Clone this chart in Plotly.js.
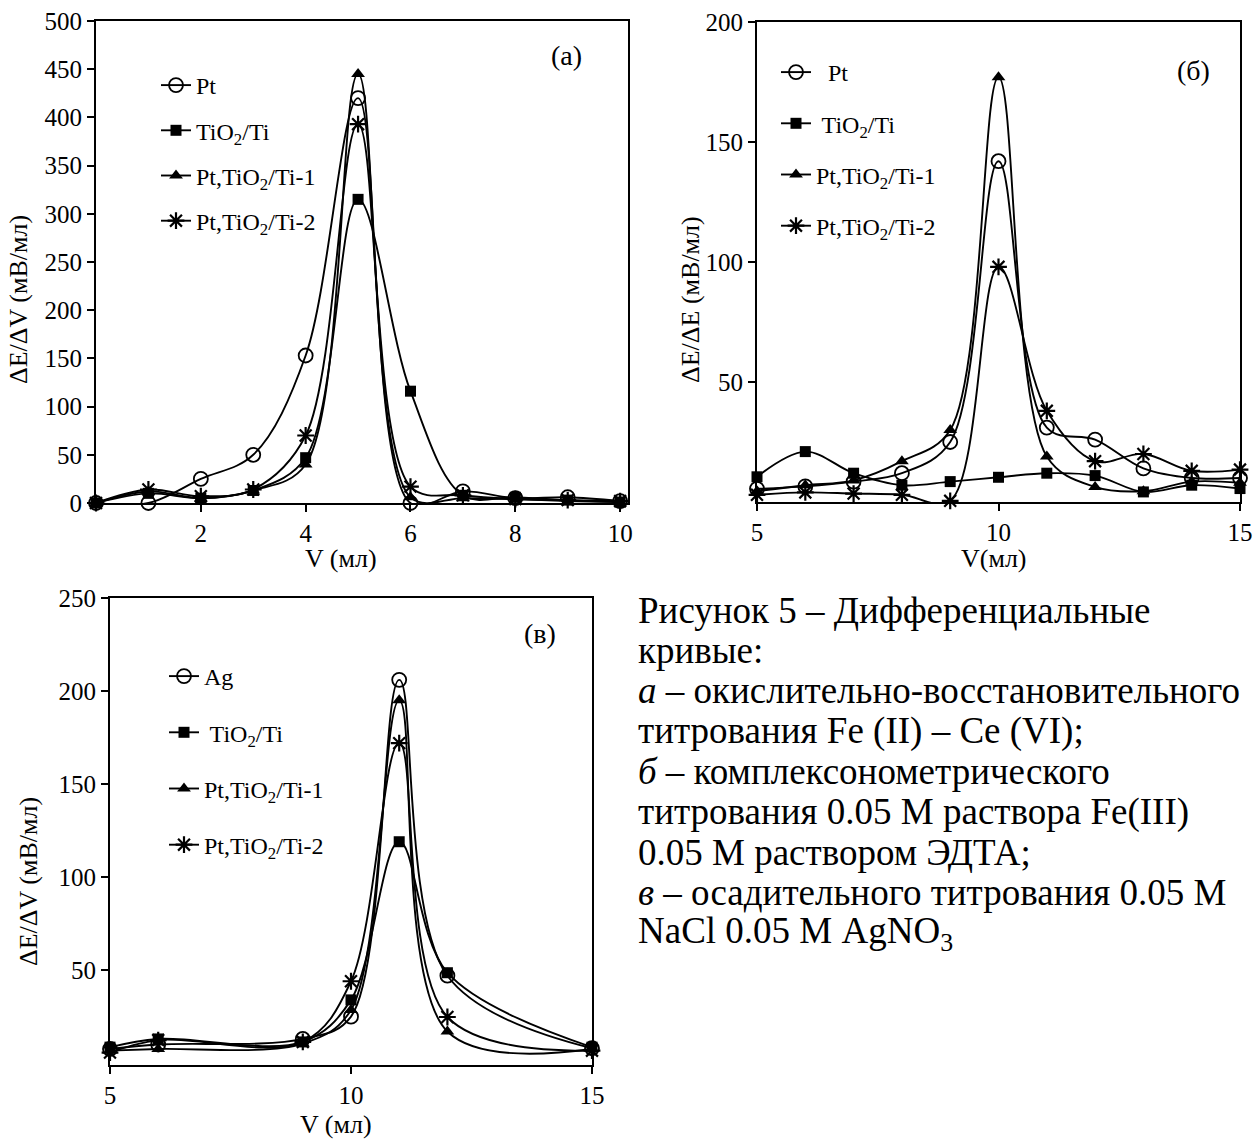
<!DOCTYPE html>
<html>
<head>
<meta charset="utf-8">
<script src="https://cdn.plot.ly/plotly-3.0.1.min.js"></script>
<style>
html,body{margin:0;padding:0;background:#fff;}
#chart{width:1258px;height:1142px;}
</style>
</head>
<body>
<div id="chart"></div>
<script>
// ---------- data ----------
// panel (a): redox titration Fe(II) - Ce
const xA = [0, 1, 2, 3, 4, 5, 6, 7, 8, 9, 10];
const aPt    = [0, 0, 25, 50, 153, 420, 0, 12, 5, 6, 2];
const aTiO2  = [0, 10, 5, 13, 47, 315, 116, 8, 6, 3, 1];
const aPt1   = [0, 12, 5, 13, 40, 445, 6, 5, 4, 2, 1];
const aPt2   = [0, 14, 7, 14, 70, 393, 17, 8, 4, 3, 2];

// panel (б): complexometric titration
const xB = [5, 6, 7, 8, 9, 10, 11, 12, 13, 14, 15];
const bPt    = [5.5, 6.5, 8.5, 12, 25, 142, 31, 26, 14, 10, 10];
const bTiO2  = [10.5, 21, 12, 7, 8.5, 10.3, 12, 11, 4.2, 7, 5.6];
const bPt1   = [4.5, 7, 9, 17, 30, 177, 19, 6.3, 4.5, 8.5, 8];
const bPt2   = [3, 4, 3.5, 3, 0.5, 98, 38, 17, 20, 13, 13.5];

// panel (в): precipitation titration
const xC = [5, 6, 9, 10, 11, 12, 15];
const cAg    = [7.6, 10, 13, 25, 206, 47, 8];
const cTiO2  = [8.6, 13, 11.4, 34, 119, 48.6, 8.6];
const cPt1   = [6.7, 7.6, 10.5, 28.6, 195, 17, 7.6];
const cPt2   = [5.7, 12.4, 11.4, 44, 172, 24.8, 6.7];

const namesA = ['Pt', 'TiO<sub>2</sub>/Ti', 'Pt,TiO<sub>2</sub>/Ti-1', 'Pt,TiO<sub>2</sub>/Ti-2'];
const namesB = ['  Pt', ' TiO<sub>2</sub>/Ti', 'Pt,TiO<sub>2</sub>/Ti-1', 'Pt,TiO<sub>2</sub>/Ti-2'];
const namesC = ['Ag', ' TiO<sub>2</sub>/Ti', 'Pt,TiO<sub>2</sub>/Ti-1', 'Pt,TiO<sub>2</sub>/Ti-2'];

const xTitles = ['V (мл)', 'V(мл)', 'V (мл)'];
const yTitles = ['ΔE/ΔV (мВ/мл)', 'ΔE/ΔE (мВ/мл)', 'ΔE/ΔV (мВ/мл)'];
const panelLabels = ['(a)', '(б)', '(в)'];

const captionLines = [
  'Рисунок 5 – Дифференциальные',
  'кривые:',
  '<i>а</i> – окислительно-восстановительного',
  'титрования Fe (II) – Ce (VI);',
  '<i>б</i> – комплексонометрического',
  'титрования 0.05 М раствора Fe(III)',
  '0.05 М раствором ЭДТА;',
  '<i>в</i> – осадительного титрования 0.05 М',
  'NaCl 0.05 М AgNO<sub>3</sub>'
];

// ---------- styles ----------
const FONT = 'Liberation Serif, Times New Roman, serif';
const W = 1258, H = 1142;
const px = v => v / W;
const py = v => 1 - v / H;

const markerStyles = [
  {symbol: 'circle-open', size: 14, color: '#000', line: {width: 1.8, color: '#000'}},
  {symbol: 'square', size: 11, color: '#000', line: {width: 0, color: '#000'}},
  {symbol: 'triangle-up', size: 12, color: '#000', line: {width: 0, color: '#000'}},
  {symbol: 'asterisk-open', size: 14, color: '#000', line: {width: 2.2, color: '#000'}}
];

function mk(x, y, name, i, xa, ya, leg) {
  return {
    x: x, y: y, name: name, type: 'scatter', mode: 'lines+markers',
    xaxis: xa, yaxis: ya, legend: leg, legendgroup: leg + '_' + i,
    line: {color: '#000', width: 1.9, shape: 'spline', smoothing: 1},
    marker: markerStyles[i], cliponaxis: false
  };
}

const traces = [];
[aPt, aTiO2, aPt1, aPt2].forEach((y, i) => traces.push(mk(xA, y, namesA[i], i, 'x', 'y', 'legend')));
[bPt, bTiO2, bPt1, bPt2].forEach((y, i) => traces.push(mk(xB, y, namesB[i], i, 'x2', 'y2', 'legend2')));
[cAg, cTiO2, cPt1, cPt2].forEach((y, i) => traces.push(mk(xC, y, namesC[i], i, 'x3', 'y3', 'legend3')));

const tickFont = {family: FONT, size: 25, color: '#000'};

function axis(extra) {
  return Object.assign({
    showline: true, linewidth: 2, linecolor: '#000', mirror: true,
    ticks: 'outside', ticklen: 7, tickwidth: 2, tickcolor: '#000',
    showgrid: false, zeroline: false, tickfont: tickFont
  }, extra);
}

function legendCfg(x, y, gap) {
  return {
    x: x, y: y, xanchor: 'left', yanchor: 'top', xref: 'paper', yref: 'paper',
    bgcolor: 'rgba(0,0,0,0)', borderwidth: 0,
    font: {family: FONT, size: 24, color: '#000'},
    tracegroupgap: gap, itemwidth: 30, traceorder: 'grouped'
  };
}

function note(text, x, y, size, extra) {
  return Object.assign({text: text, x: px(x), y: py(y), xref: 'paper', yref: 'paper',
    xanchor: 'center', yanchor: 'middle',
    showarrow: false, font: {family: FONT, size: size, color: '#000'}}, extra || {});
}

const annotations = [
  note(panelLabels[0], 566, 56, 28),
  note(panelLabels[1], 1193, 70, 28),
  note(panelLabels[2], 540, 633, 28),
  // axis titles
  note(xTitles[0], 341, 558, 26),
  note(xTitles[1], 994, 558, 26),
  note(xTitles[2], 336, 1124, 26),
  note(yTitles[0], 18, 300, 26, {textangle: -90}),
  note(yTitles[1], 690, 300, 26, {textangle: -90}),
  note(yTitles[2], 28, 882, 26, {textangle: -90})
];
captionLines.forEach((t, i) => {
  annotations.push(note(t, 636, 610 + i * 40.4, 37, {xanchor: 'left', align: 'left'}));
});

const layout = {
  width: W, height: H,
  margin: {l: 0, r: 0, t: 0, b: 0},
  paper_bgcolor: '#fff', plot_bgcolor: '#fff',
  font: {family: FONT, color: '#000'},
  showlegend: true,
  xaxis: axis({domain: [px(96), px(628)], range: [0, 10.15], tickvals: [2, 4, 6, 8, 10], anchor: 'y'}),
  yaxis: axis({domain: [py(503), py(21)], range: [0, 500], dtick: 50, anchor: 'x'}),
  xaxis2: axis({domain: [px(757), px(1240)], range: [5, 15], tickvals: [5, 10, 15], anchor: 'y2'}),
  yaxis2: axis({domain: [py(502), py(22)], range: [0, 200], tickvals: [50, 100, 150, 200], anchor: 'x2'}),
  xaxis3: axis({domain: [px(110), px(592)], range: [5, 15], tickvals: [5, 10, 15], anchor: 'y3'}),
  yaxis3: axis({domain: [py(1065), py(598)], range: [-1, 250], tickvals: [50, 100, 150, 200, 250], anchor: 'x3'}),
  legend: legendCfg(px(156), py(63), 11),
  legend2: legendCfg(px(776), py(50), 17),
  legend3: legendCfg(px(164), py(654), 22),
  annotations: annotations
};

Plotly.newPlot('chart', traces, layout, {staticPlot: true, displayModeBar: false});
</script>
</body>
</html>
